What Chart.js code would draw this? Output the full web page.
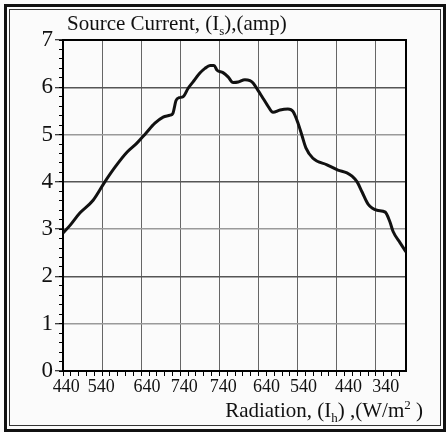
<!DOCTYPE html>
<html>
<head>
<meta charset="utf-8">
<title>Source current vs radiation</title>
<script src="https://cdn.jsdelivr.net/npm/chart.js@4"></script>
<style>
  html, body { margin: 0; padding: 0; }
  body {
    width: 446px; height: 432px; position: relative; overflow: hidden;
    background: #fbfbfb;
    font-family: "Liberation Serif", "Times New Roman", serif; color: #111;
  }
  .frame-outer {
    position: absolute; left: 4px; top: 4px; width: 442px; height: 428px;
    box-sizing: border-box; border: 3px solid #111;
  }
  .frame-inner {
    position: absolute; left: 9px; top: 9px; width: 432px; height: 417px;
    box-sizing: border-box; border: 1px solid #333;
  }
  #chart { position: absolute; left: 0; top: 0; }
  .label { position: absolute; font-size: 21px; line-height: 22px; white-space: nowrap; }
  .label sub, .label sup { font-size: 13px; line-height: 0; }
  #yTitle { left: 67px; top: 12px; }
  #xTitle { right: 23px; top: 399px; }
</style>
</head>
<body>
<div class="frame-outer"></div>
<div class="frame-inner"></div>
<canvas id="chart" width="446" height="432"></canvas>
<div class="label" id="yTitle">Source Current, (I<sub>s</sub>),(amp)</div>
<div class="label" id="xTitle">Radiation, (I<sub>h</sub>) ,(W/m<sup>2</sup> )</div>

<script>
// time step along the day (one unit per grid column) and the measured current
const timeStep = [0.00, 0.18, 0.43, 0.77, 1.07, 1.33, 1.64, 1.89, 2.12, 2.35,
                  2.56, 2.74, 2.81, 2.89, 2.97, 3.07, 3.20, 3.32, 3.50, 3.63,
                  3.76, 3.86, 3.94, 4.09, 4.22, 4.35, 4.48, 4.65, 4.78, 4.86,
                  4.99, 5.09, 5.22, 5.37, 5.55, 5.75, 5.88, 6.01, 6.11, 6.21,
                  6.39, 6.75, 7.03, 7.26, 7.39, 7.52, 7.65, 7.80, 8.03, 8.24,
                  8.36, 8.44, 8.62, 8.77];
const sourceCurrent = [2.92, 3.08, 3.34, 3.61, 4.00, 4.31, 4.63, 4.82, 5.03, 5.24,
                       5.37, 5.41, 5.45, 5.72, 5.78, 5.80, 5.98, 6.11, 6.30, 6.40,
                       6.46, 6.46, 6.36, 6.31, 6.22, 6.10, 6.11, 6.16, 6.14, 6.09,
                       5.93, 5.80, 5.63, 5.47, 5.52, 5.54, 5.49, 5.24, 4.98, 4.72,
                       4.50, 4.36, 4.25, 4.19, 4.12, 4.00, 3.78, 3.53, 3.40, 3.36,
                       3.15, 2.95, 2.71, 2.52];

// radiation labels under the time axis (morning rise, then afternoon fall)
const radiationLabels = ['440', '540', '640', '740', '740', '640', '540', '440', '340'];
const radiationLabelAt = [0.08, 0.98, 2.15, 3.1, 4.1, 5.2, 6.15, 7.3, 8.25];

const xMax = 8.77;
const yMax = 7;

const serif = '"Liberation Serif", "Times New Roman", serif';

function fixedTicks(values) {
  return scale => { scale.ticks = values.map(v => ({ value: v })); };
}
function steps(from, to, step) {
  const out = [];
  for (let v = from; v <= to + 1e-9; v += step) out.push(+v.toFixed(3));
  return out;
}

const ctx = document.getElementById('chart').getContext('2d');

new Chart(ctx, {
  type: 'line',
  data: {
    datasets: [{
      data: timeStep.map((x, i) => ({ x: x, y: sourceCurrent[i] })),
      borderColor: '#111',
      borderWidth: 3,
      pointRadius: 0,
      cubicInterpolationMode: 'monotone',
      fill: false
    }]
  },
  options: {
    responsive: false,
    animation: false,
    layout: { padding: { top: 40, right: 40, left: 0, bottom: 0 } },
    plugins: { legend: { display: false }, tooltip: { enabled: false } },
    scales: {
      // dotted vertical grid, one line per column
      x: {
        type: 'linear', min: 0, max: xMax, position: 'bottom', weight: 0,
        afterBuildTicks: fixedTicks(steps(0, 8, 1)),
        ticks: { display: false },
        grid: { color: '#666', lineWidth: 1, borderDash: [2, 2], drawTicks: false },
        border: { display: true, color: '#000', width: 2 },
        afterFit: s => { s.height = 0; }
      },
      // small tick marks under the axis
      xMinor: {
        type: 'linear', min: 0, max: xMax, position: 'bottom', weight: 0,
        afterBuildTicks: fixedTicks(steps(0, 8.6, 0.2)),
        ticks: { display: false },
        grid: { drawOnChartArea: false, tickLength: 5, tickColor: '#000', lineWidth: 1 },
        border: { display: false },
        afterFit: s => { s.height = 0; }
      },
      xLabels: {
        type: 'linear', min: 0, max: xMax, position: 'bottom', weight: 1,
        afterBuildTicks: fixedTicks(radiationLabelAt),
        ticks: {
          autoSkip: false, maxRotation: 0, padding: 5, color: '#111',
          font: { family: serif, size: 18 },
          callback: (v, i) => radiationLabels[i]
        },
        grid: { display: false, drawTicks: false },
        border: { display: false },
        afterFit: s => { s.height = 61; }
      },
      xTop: {
        type: 'linear', min: 0, max: xMax, position: 'top',
        ticks: { display: false },
        grid: { display: false },
        border: { display: true, color: '#000', width: 2 },
        afterFit: s => { s.height = 0; }
      },
      y: {
        type: 'linear', min: 0, max: yMax, position: 'left', weight: 0,
        afterBuildTicks: fixedTicks(steps(0, yMax, 1)),
        ticks: { padding: 2, color: '#111', font: { family: serif, size: 23 } },
        grid: {
          color: c => (c.tick && c.tick.value % 2 === 0) ? '#555' : '#9a9a9a',
          lineWidth: 1.5, tickLength: 8, tickColor: '#000', tickWidth: 1
        },
        border: { display: true, color: '#000', width: 2 },
        afterFit: s => { s.width = 63; }
      },
      yMinor: {
        type: 'linear', min: 0, max: yMax, position: 'left', weight: -1,
        afterBuildTicks: fixedTicks(steps(0, yMax, 0.2)),
        ticks: { display: false },
        grid: { drawOnChartArea: false, tickLength: 4, tickColor: '#000', lineWidth: 1 },
        border: { display: false },
        afterFit: s => { s.width = 0; }
      },
      yRight: {
        type: 'linear', min: 0, max: yMax, position: 'right',
        ticks: { display: false },
        grid: { display: false },
        border: { display: true, color: '#000', width: 2 },
        afterFit: s => { s.width = 0; }
      }
    }
  }
});
</script>
</body>
</html>
